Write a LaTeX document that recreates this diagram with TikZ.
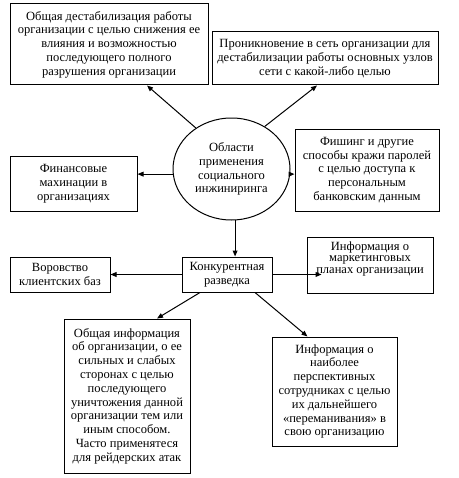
\documentclass[tikz,border=0pt]{standalone}
\usepackage{fontspec}
\setmainfont{Liberation Serif}
\usetikzlibrary{arrows.meta,positioning,shapes.geometric,calc}
\newcommand\areafont{\fontsize{9.4}{10.35}\selectfont}
\tikzset{
  area/.style={draw,line width=0.75pt,font=\areafont,inner sep=2pt,align=center},
  hub/.style={ellipse,draw,line width=0.75pt,font=\areafont,inner sep=0pt,align=center},
  flow/.style={-{Triangle[length=4.5pt,width=3.6pt]},line width=0.75pt},
  px/.style 2 args={minimum width=#1*0.75pt,minimum height=#2*0.75pt},
}
\begin{document}
\begin{tikzpicture}[x=0.75pt,y=-0.75pt]
\useasboundingbox (0,0) rectangle (458,478);
\node[hub,px={117}{102}] (soc) at (231.5,169) {Области\\применения\\социального\\инжиниринга};
\node[area,px={198}{81}] (dest) at (109,44.5) {Общая дестабилизация работы\\организации с целью снижения ее\\влияния и возможностью\\последующего полного\\разрушения организации};
\node[area,px={226}{53}] (net) at (325,58.5) {Проникновение в сеть организации для\\дестабилизации работы основных узлов\\сети с какой-либо целью};
\node[area,px={127}{55}] (fin) at (73.5,183.5) {Финансовые\\махинации в\\организациях};
\node[area,px={144}{82}] (phish) at (367,170) {Фишинг и другие\\способы кражи паролей\\с целью доступа к\\персональным\\банковским данным};
\node[area,px={90}{35}] (kr) at (227,274.5) {Конкурентная\\разведка};
\node[area,px={100}{35}] (base) at (60,274.5) {Воровство\\клиентских баз};
\node[area,px={126}{56},font=\fontsize{9.4}{8.6}\selectfont] (mark) at (370,265) {Информация о\\маркетинговых\\планах организации\\[3pt]\mbox{}};
\node[area,px={126}{154}] (gen) at (127,396) {Общая информация\\об организации, о ее\\сильных и слабых\\сторонах с целью\\последующего\\уничтожения данной\\организации тем или\\иным способом.\\Часто применятеся\\для рейдерских атак};
\node[area,px={125}{109}] (staff) at (334.5,391.5) {Информация о\\наиболее\\перспективных\\сотрудниках с целью\\их дальнейшего\\«переманивания» в\\свою организацию};
% arrows from the hub
\draw[flow] (soc.131) -- ($(dest.south)+(38,0)$);
\draw[flow] (soc.52) -- ($(net.south)+(-8,0)$);
\draw[flow] (soc.185) -- (soc.185 -| fin.east);
\draw[flow] (soc.-5) -- (soc.-5 -| phish.west);
\draw[flow] (soc.-86) -- (soc.-86 |- kr.north);
% competitive intelligence
\draw[flow] (kr.west) -- (base.east);
\draw[flow] (kr.east) -- ($(kr.east -| mark.west)+(15,0)$);
\draw[flow] ($(kr.south)+(-27,0)$) -- ($(gen.north)+(30,0)$);
\draw[flow] ($(kr.south)+(28,0)$) -- ($(staff.north)+(-27,0)$);
\end{tikzpicture}
\end{document}
